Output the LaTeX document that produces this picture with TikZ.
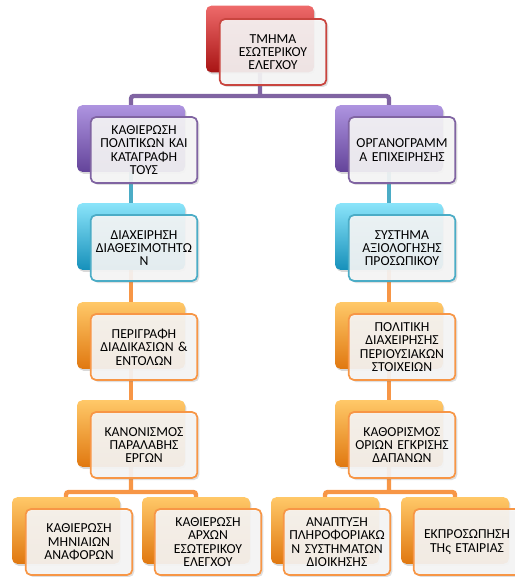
\documentclass[tikz,border=0pt]{standalone}
\usepackage{fontspec}
\setmainfont{Carlito}
\usetikzlibrary{shadows, positioning, calc, backgrounds}
\definecolor{redline}{HTML}{C9453F}
\definecolor{purpleline}{HTML}{8064A2}
\definecolor{aqualine}{HTML}{4BACC6}
\definecolor{orangeline}{HTML}{F79646}
\definecolor{redtop}{HTML}{EE6A6A}
\definecolor{redmid}{HTML}{D92626}
\definecolor{redbot}{HTML}{A81414}
\definecolor{purpletop}{HTML}{AE94E0}
\definecolor{purplemid}{HTML}{8C6AC8}
\definecolor{purplebot}{HTML}{64449A}
\definecolor{aquatop}{HTML}{8AE4FA}
\definecolor{aquamid}{HTML}{36C2EA}
\definecolor{aquabot}{HTML}{1690BA}
\definecolor{orangetop}{HTML}{FFC868}
\definecolor{orangemid}{HTML}{FFA02C}
\definecolor{orangebot}{HTML}{E07810}
\begin{document}
\begin{tikzpicture}[x=0.75pt,y=-0.75pt,
  back/.style={rounded corners=4pt, minimum width=81pt, minimum height=50pt, inner sep=0pt,
    drop shadow={opacity=0.3,shadow xshift=1pt,shadow yshift=-1.5pt}},
  redback/.style={back, top color=redtop, middle color=redmid, bottom color=redbot},
  purpleback/.style={back, top color=purpletop, middle color=purplemid, bottom color=purplebot},
  aquaback/.style={back, top color=aquatop, middle color=aquamid, bottom color=aquabot},
  orangeback/.style={back, top color=orangetop, middle color=orangemid, bottom color=orangebot},
  front/.style={draw=#1, line width=1.3pt, rounded corners=4pt, fill=gray!6, fill opacity=0.9,
    text opacity=1, text=black, minimum width=80pt, minimum height=49.5pt, text width=80pt,
    align=center, inner sep=0pt, font=\fontsize{10.3}{10}\selectfont,
    drop shadow={opacity=0.25,shadow xshift=1.5pt,shadow yshift=-1.5pt}},
  link/.style={draw=#1, line width=3.3pt, rounded corners=2pt}]
\useasboundingbox (0,0) rectangle (514,577);
% Tmima
\node[redback] (bk_0) at (260,39) {};
\node[front=redline] (tx_0) at (273,52) {ΤΜΗΜΑ\\ΕΣΩΤΕΡΙΚΟΥ\\ΕΛΕΓΧΟΥ};
% aristeri stili
\node[purpleback] (bk_1) at (131,138.5) {};
\node[front=purpleline] (tx_1) at (144,150) {ΚΑΘΙΕΡΩΣΗ\\ΠΟΛΙΤΙΚΩΝ ΚΑΙ\\ΚΑΤΑΓΡΑΦΗ\\ΤΟΥΣ};
\node[aquaback] (bk_2) at (131,236.5) {};
\node[front=aqualine] (tx_2) at (144,248) {ΔΙΑΧΕΙΡΗΣΗ\\ΔΙΑΘΕΣΙΜΟΤΗΤΩ\\Ν};
\node[orangeback] (bk_3) at (131,335.5) {};
\node[front=orangeline] (tx_3) at (144,347) {ΠΕΡΙΓΡΑΦΗ\\ΔΙΑΔΙΚΑΣΙΩΝ \&\\ΕΝΤΟΛΩΝ};
\node[orangeback] (bk_4) at (131,433.5) {};
\node[front=orangeline] (tx_4) at (144,445) {ΚΑΝΟΝΙΣΜΟΣ\\ΠΑΡΑΛΑΒΗΣ\\ΕΡΓΩΝ};
% dexia stili
\node[purpleback] (bk_5) at (389,138.5) {};
\node[front=purpleline] (tx_5) at (402,150) {ΟΡΓΑΝΟΓΡΑΜΜ\\Α ΕΠΙΧΕΙΡΗΣΗΣ};
\node[aquaback] (bk_6) at (389,236.5) {};
\node[front=aqualine] (tx_6) at (402,248) {ΣΥΣΤΗΜΑ\\ΑΞΙΟΛΟΓΗΣΗΣ\\ΠΡΟΣΩΠΙΚΟΥ};
\node[orangeback] (bk_7) at (389,335.5) {};
\node[front=orangeline] (tx_7) at (402,347) {ΠΟΛΙΤΙΚΗ\\ΔΙΑΧΕΙΡΗΣΗΣ\\ΠΕΡΙΟΥΣΙΑΚΩΝ\\ΣΤΟΙΧΕΙΩΝ};
\node[orangeback] (bk_8) at (389,433.5) {};
\node[front=orangeline] (tx_8) at (402,445) {ΚΑΘΟΡΙΣΜΟΣ\\ΟΡΙΩΝ ΕΓΚΡΙΣΗΣ\\ΔΑΠΑΝΩΝ};
% teleutaia seira
\node[orangeback] (bk_9) at (66,530.5) {};
\node[front=orangeline] (tx_9) at (79,542) {ΚΑΘΙΕΡΩΣΗ\\ΜΗΝΙΑΙΩΝ\\ΑΝΑΦΟΡΩΝ};
\node[orangeback] (bk_10) at (196,530.5) {};
\node[front=orangeline] (tx_10) at (208,542) {ΚΑΘΙΕΡΩΣΗ\\ΑΡΧΩΝ\\ΕΣΩΤΕΡΙΚΟΥ\\ΕΛΕΓΧΟΥ};
\node[orangeback] (bk_11) at (325,530.5) {};
\node[front=orangeline] (tx_11) at (337,542) {ΑΝΑΠΤΥΞΗ\\ΠΛΗΡΟΦΟΡΙΑΚΩ\\Ν ΣΥΣΤΗΜΑΤΩΝ\\ΔΙΟΙΚΗΣΗΣ};
\node[orangeback] (bk_12) at (455,530.5) {};
\node[front=orangeline] (tx_12) at (467,542) {ΕΚΠΡΟΣΩΠΗΣΗ\\ΤΗς ΕΤΑΙΡΙΑΣ};
% syndeseis
\coordinate (j_0) at (260,96);
\coordinate (j_4) at (131,492);
\coordinate (j_8) at (389,492);
\begin{pgfonlayer}{background}
\draw[link=purpleline] (bk_0) -- (j_0) (bk_1) |- (j_0) -| (bk_5);
\draw[link=aqualine] (bk_1) -- (bk_2) (bk_5) -- (bk_6);
\draw[link=orangeline] (bk_2) -- (bk_3) (bk_3) -- (bk_4) (bk_6) -- (bk_7) (bk_7) -- (bk_8);
\draw[link=orangeline] (bk_4) -- (j_4) (bk_9) |- (j_4) -| (bk_10);
\draw[link=orangeline] (bk_8) -- (j_8) (bk_11) |- (j_8) -| (bk_12);
\end{pgfonlayer}
\end{tikzpicture}
\end{document}
